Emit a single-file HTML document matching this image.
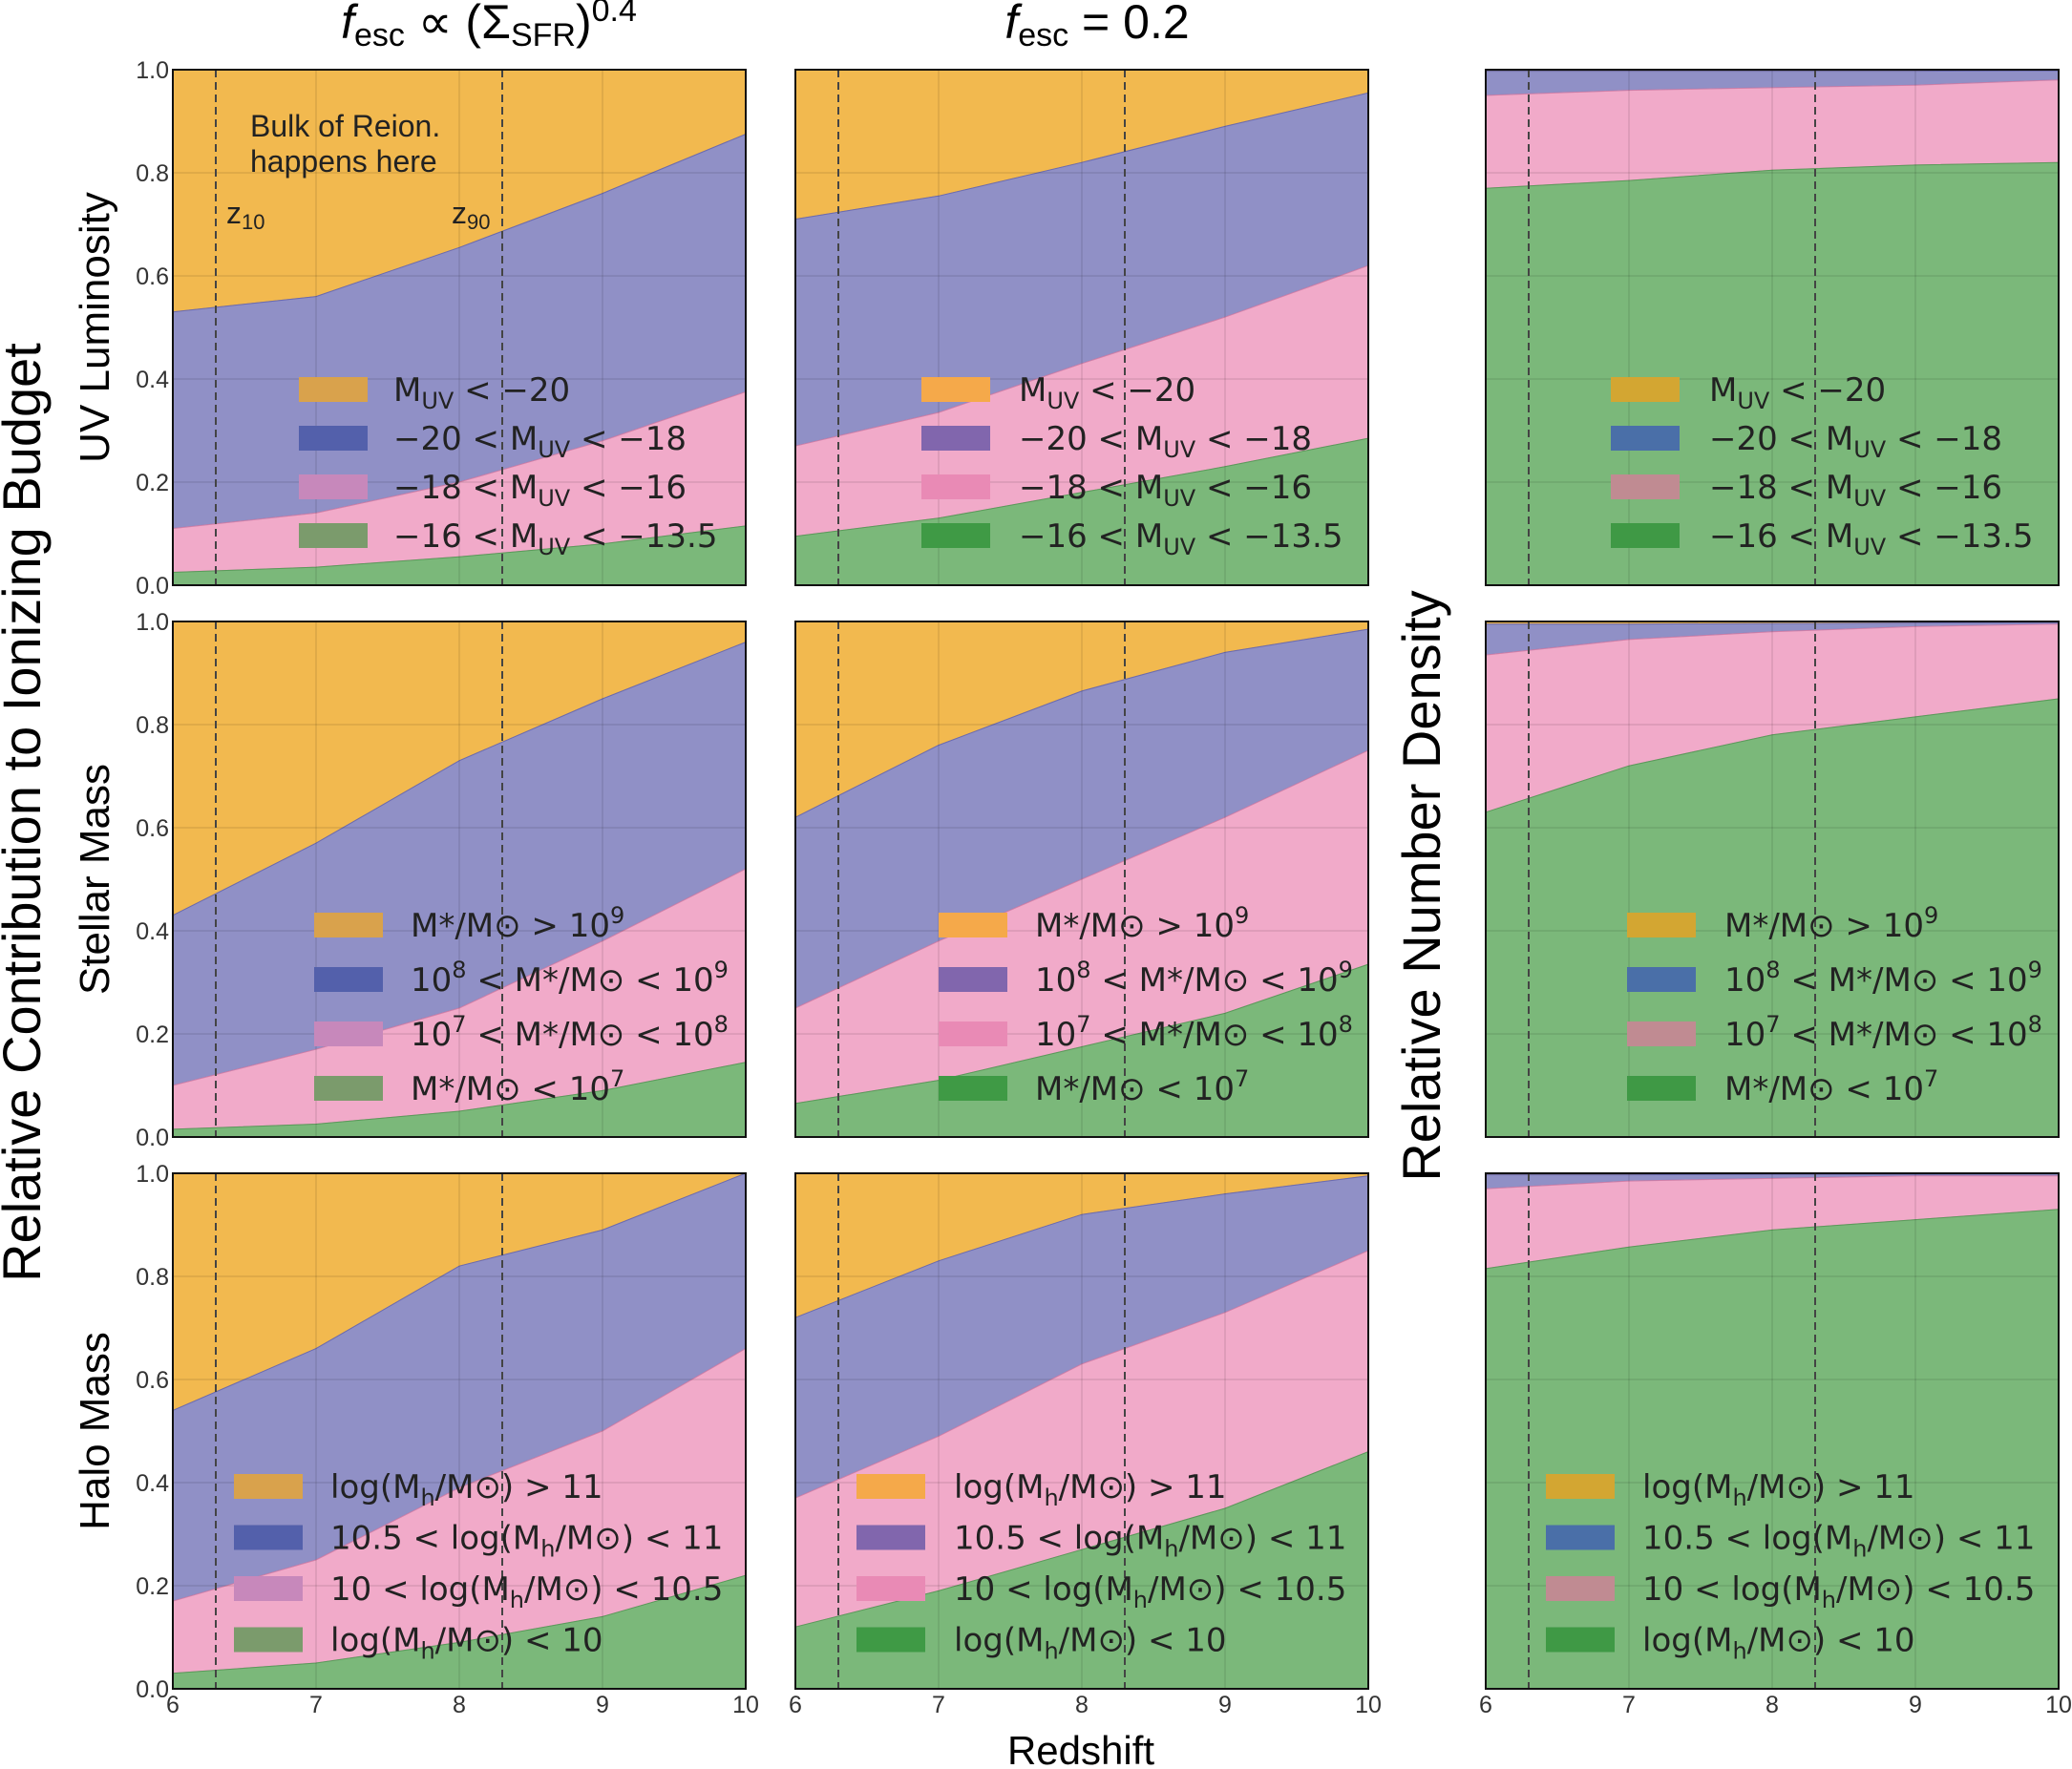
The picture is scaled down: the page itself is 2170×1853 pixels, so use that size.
<!DOCTYPE html>
<html><head><meta charset="utf-8"><style>
html,body{margin:0;padding:0;background:#fff}
svg{display:block;font-family:"DejaVu Sans","Liberation Sans",sans-serif}
</style></head><body>
<svg id="fig" width="2170" height="1853" viewBox="0 0 2170 1853" xmlns="http://www.w3.org/2000/svg">
<text x="512" y="40" text-anchor="middle" font-size="50" font-family="Liberation Sans,sans-serif"><tspan font-style="italic">f</tspan><tspan font-size="34" dy="8">esc</tspan><tspan dy="-8"> ∝ (Σ</tspan><tspan font-size="34" dy="8">SFR</tspan><tspan dy="-8">)</tspan><tspan font-size="34" dy="-18">0.4</tspan></text>
<text x="1149" y="40" text-anchor="middle" font-size="50" font-family="Liberation Sans,sans-serif"><tspan font-style="italic">f</tspan><tspan font-size="34" dy="8">esc</tspan><tspan dy="-8"> = 0.2</tspan></text>
<text transform="translate(42,851) rotate(-90)" text-anchor="middle" font-size="56" font-family="Liberation Sans,sans-serif">Relative Contribution to Ionizing Budget</text>
<text transform="translate(1508,928) rotate(-90)" text-anchor="middle" font-size="56" font-family="Liberation Sans,sans-serif">Relative Number Density</text>
<text transform="translate(114,343) rotate(-90)" text-anchor="middle" font-size="44" font-family="Liberation Sans,sans-serif">UV Luminosity</text>
<text transform="translate(114,921) rotate(-90)" text-anchor="middle" font-size="44" font-family="Liberation Sans,sans-serif">Stellar Mass</text>
<text transform="translate(114,1499) rotate(-90)" text-anchor="middle" font-size="44" font-family="Liberation Sans,sans-serif">Halo Mass</text>
<text x="1132" y="1848" text-anchor="middle" font-size="42" font-family="Liberation Sans,sans-serif">Redshift</text>
<g id="panels"></g>
</svg>
<script>
const redshifts=[6,7,8,9,10];
const obBound=[[0.53,0.56,0.655,0.76,0.875],[0.71,0.755,0.82,0.89,0.955],[0.997,0.997,0.997,0.997,0.998],
 [0.43,0.57,0.73,0.85,0.96],[0.62,0.76,0.865,0.94,0.985],[0.995,0.995,0.996,0.997,0.998],
 [0.54,0.66,0.82,0.89,1.0],[0.72,0.83,0.92,0.96,0.995],[0.997,0.997,0.998,0.998,0.999]];
const bpBound=[[0.11,0.14,0.20,0.28,0.375],[0.27,0.335,0.43,0.52,0.62],[0.95,0.96,0.965,0.97,0.98],
 [0.10,0.17,0.25,0.38,0.52],[0.25,0.38,0.50,0.62,0.75],[0.935,0.965,0.98,0.99,0.995],
 [0.17,0.25,0.39,0.50,0.66],[0.37,0.49,0.63,0.73,0.85],[0.97,0.985,0.99,0.995,0.995]];
const pgBound=[[0.025,0.035,0.055,0.08,0.115],[0.095,0.13,0.18,0.23,0.285],[0.77,0.785,0.805,0.815,0.82],
 [0.015,0.025,0.05,0.09,0.145],[0.065,0.11,0.175,0.24,0.335],[0.63,0.72,0.78,0.815,0.85],
 [0.03,0.05,0.09,0.14,0.22],[0.12,0.19,0.27,0.35,0.46],[0.815,0.857,0.89,0.91,0.93]];
const yTicks=[0,0.2,0.4,0.6,0.8,1.0];
const yTickLabels=["0.0","0.2","0.4","0.6","0.8","1.0"];
const xTickLabels=["6","7","8","9","10"];
const zMarkers=[6.3,8.3];
// segments: [text, mode] mode: n normal, b subscript, p superscript
const legendLabels=[
 [[["M","n"],["UV","b"],[" < −20","n"]],[["−20 < M","n"],["UV","b"],[" < −18","n"]],[["−18 < M","n"],["UV","b"],[" < −16","n"]],[["−16 < M","n"],["UV","b"],[" < −13.5","n"]]],
 [[["M*/M⊙ > 10","n"],["9","p"]],[["10","n"],["8","p"],[" < M*/M⊙ < 10","n"],["9","p"]],[["10","n"],["7","p"],[" < M*/M⊙ < 10","n"],["8","p"]],[["M*/M⊙ < 10","n"],["7","p"]]],
 [[["log(M","n"],["h","b"],["/M⊙) > 11","n"]],[["10.5 < log(M","n"],["h","b"],["/M⊙) < 11","n"]],[["10 < log(M","n"],["h","b"],["/M⊙) < 10.5","n"]],[["log(M","n"],["h","b"],["/M⊙) < 10","n"]]]];
const fill=["#f2b94f","#9090c6","#f1aac9","#7bb87a"];
const swatch=[["#d9a24c","#5360ab","#c788bb","#7b9b6c"],["#f5a94a","#8166ad","#e98ab5","#3f9a45"],["#d3a632","#4a6fa8","#c08b92","#3f9945"]];
const colX=[181,833,1556],rowY=[73,651,1229],W=600,H=540;
const legPos=[[313,412,408],[965,1067,408],[1687,1790,408],[329,430,969],[983,1084,969],[1704,1806,969],[245,346,1557],[897,999,1557],[1619,1720,1557]];
const NS="http://www.w3.org/2000/svg";
const G=document.getElementById('panels');
function el(t,a,p){const e=document.createElementNS(NS,t);for(const k in a)e.setAttribute(k,a[k]);(p||G).appendChild(e);return e;}
for(let r=0;r<3;r++)for(let c=0;c<3;c++){
 const i=r*3+c,x0=colX[c],y0=rowY[r];
 const X=z=>x0+(z-6)/4*W, Y=v=>y0+H-v*H;
 const g=el('g',{});
 
 
 const top=redshifts.map(()=>1), zero=redshifts.map(()=>0);
 const layers=[[top,obBound[i]],[obBound[i],bpBound[i]],[bpBound[i],pgBound[i]],[pgBound[i],zero]];
 const names=['area-bright','area-mid','area-faint','area-faintest'];
 layers.forEach((L,k)=>{
  let d='M'+redshifts.map((z,j)=>X(z)+','+Y(L[0][j])).join('L');
  d+='L'+redshifts.slice().reverse().map((z,j)=>X(z)+','+Y(L[1][redshifts.length-1-j])).join('L')+'Z';
  const p=el('path',{d:d,fill:fill[k],stroke:['#b8905a','#6a6ab0','#d080a8','#5a9a5a'][k],'stroke-width':1},g);
  
  
 });
 [7,8,9].forEach(z=>el('line',{x1:X(z),x2:X(z),y1:y0,y2:y0+H,stroke:'rgba(0,0,0,0.1)','stroke-width':1.5},g));
 [0.2,0.4,0.6,0.8].forEach(v=>el('line',{x1:x0,x2:x0+W,y1:Y(v),y2:Y(v),stroke:'rgba(0,0,0,0.1)','stroke-width':1.5},g));
 zMarkers.forEach(z=>{const l=el('line',{x1:X(z),x2:X(z),y1:y0,y2:y0+H,stroke:'#444','stroke-width':2,'stroke-dasharray':'8,5'},g);
  
  });
 el('rect',{x:x0,y:y0,width:W,height:H,fill:'none',stroke:'#111','stroke-width':2},g);
 if(c===0){yTicks.forEach((v,k)=>{const t=el('text',{x:x0-4,y:Y(v)+9,'text-anchor':'end','font-size':25,fill:'#333','font-family':'Liberation Sans,sans-serif'},g);t.textContent=yTickLabels[k];
  
  });}
 if(r===2){redshifts.forEach((z,k)=>{const t=el('text',{x:X(z),y:y0+H+25,'text-anchor':'middle','font-size':25,fill:'#333','font-family':'Liberation Sans,sans-serif'},g);t.textContent=xTickLabels[k];
  
  });}
 const lp=legPos[i];
 const leg=el('g',{},g);
 
 
 legendLabels[r].forEach((lab,k)=>{
  const yy=lp[2]+k*(r===0?51:(r===1?57:53.5));
  el('rect',{x:lp[0],y:yy-13,width:72,height:26,fill:swatch[c][k]},leg);
  const t=el('text',{x:lp[1],y:yy+12,'font-size':34,fill:'#222'},leg);
  
  
  let cur=0;
  lab.forEach(seg=>{
   const target=seg[1]==='b'?8:(seg[1]==='p'?-14:0);
   const a={dy:target-cur};
   if(seg[1]!=='n')a['font-size']=24;
   const s=el('tspan',a,t);s.textContent=seg[0];cur=target;
  });
 });
}
function ann(txt,x,y,fs,n){const t=el('text',{x:x,y:y,'font-size':fs,fill:'#222','font-family':'Liberation Sans,sans-serif'});t.textContent=txt;
 
 return t;}
ann('Bulk of Reion.',262,143,32,'annotation-bulk');
ann('happens here',262,180,32,'annotation-bulk-2');
const z1=ann('z',237,234,32,'z10-label');const s1=el('tspan',{'font-size':22,dy:6},z1);s1.textContent='10';
const z2=ann('z',473,234,32,'z90-label');const s2=el('tspan',{'font-size':22,dy:6},z2);s2.textContent='90';
</script>
</body></html>
